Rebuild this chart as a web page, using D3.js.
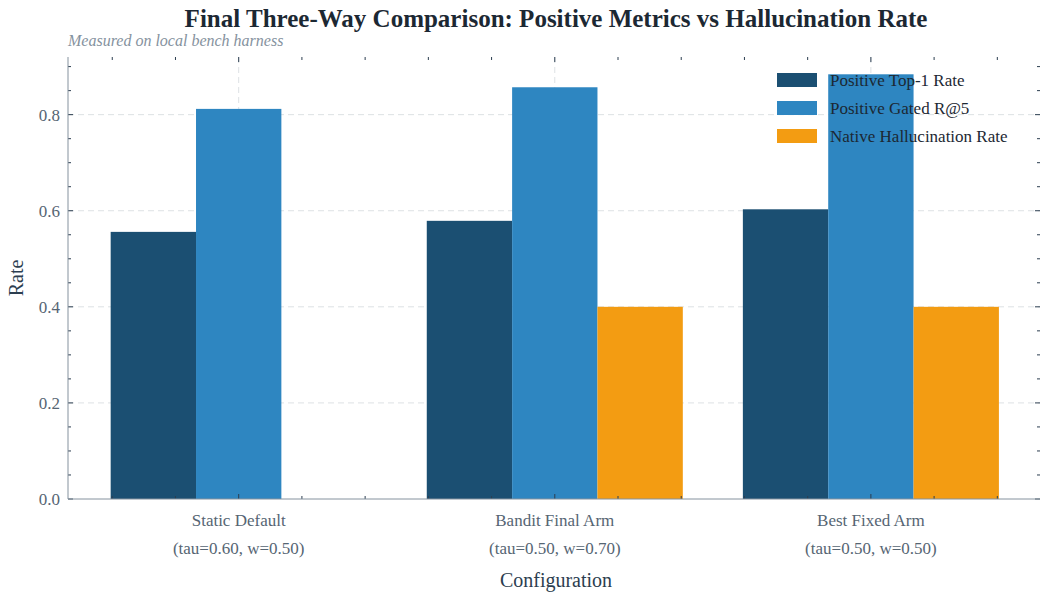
<!DOCTYPE html>
<html><head><meta charset="utf-8">
<script src="https://cdn.jsdelivr.net/npm/d3@7"></script>
<style>body{margin:0;background:#fff}text{font-family:"Liberation Serif","DejaVu Serif",serif}</style>
</head><body><svg id="chart" width="1050" height="600"></svg>
<script>
const groups = ["Static Default", "Bandit Final Arm", "Best Fixed Arm"];
const params = ["(tau=0.60, w=0.50)", "(tau=0.50, w=0.70)", "(tau=0.50, w=0.50)"];
const seriesNames = ["Positive Top-1 Rate", "Positive Gated R@5", "Native Hallucination Rate"];
const colors = ["#1b4f72", "#2e86c1", "#f39c12"];
const top1 = [0.556, 0.579, 0.603];
const gated = [0.812, 0.857, 0.884];
const halluc = [0.0, 0.4, 0.4];
const series = [top1, gated, halluc];
const yTicks = [0, 0.2, 0.4, 0.6, 0.8];

const svg = d3.select("#chart");
const L = 68, R = 1040, T = 57, B = 499;
const x = d3.scaleLinear().domain([-0.54, 2.535]).range([L, R]);
const y = d3.scaleLinear().domain([0, 0.92]).range([B, T]);
const bw = 0.27;

// grid
svg.append("g").selectAll("line").data(yTicks.slice(1)).join("line")
  .attr("x1", L).attr("x2", R).attr("y1", d => y(d)).attr("y2", d => y(d))
  .attr("stroke", "#dde1e4").attr("stroke-dasharray", "6,4");
svg.append("g").selectAll("line").data(groups).join("line")
  .attr("x1", (d, i) => x(i)).attr("x2", (d, i) => x(i)).attr("y1", T).attr("y2", B)
  .attr("stroke", "#dde1e4").attr("stroke-dasharray", "6,4");

// bars
series.forEach((vals, s) => {
  svg.append("g").selectAll("rect").data(vals).join("rect")
    .attr("x", (d, i) => x(i + (s - 1.5) * bw))
    .attr("width", x(bw) - x(0))
    .attr("y", d => y(d)).attr("height", d => B - y(d))
    .attr("fill", colors[s]);
});

// ticks (inward, all sides)
const tk = svg.append("g").attr("stroke", "#2c3e50");
const minorY = d3.range(0, 0.92, 0.05);
minorY.forEach(v => {
  const major = Math.abs(v * 5 - Math.round(v * 5)) < 1e-6;
  const len = major ? 5 : 3;
  tk.append("line").attr("x1", L).attr("x2", L + len).attr("y1", y(v)).attr("y2", y(v));
  tk.append("line").attr("x1", R).attr("x2", R - len).attr("y1", y(v)).attr("y2", y(v));
});
d3.range(-2, 14).map(k => k * 0.2).filter(v => x(v) > L && x(v) < R).forEach(v => {
  const major = Math.abs(v - Math.round(v)) < 1e-6;
  const len = major ? 5 : 3;
  tk.append("line").attr("x1", x(v)).attr("x2", x(v)).attr("y1", B).attr("y2", B - len);
  tk.append("line").attr("x1", x(v)).attr("x2", x(v)).attr("y1", T).attr("y2", T + len);
});

// spines
svg.append("line").attr("x1", L).attr("x2", L).attr("y1", T).attr("y2", B).attr("stroke", "#85929e");
svg.append("line").attr("x1", L).attr("x2", R).attr("y1", B).attr("y2", B).attr("stroke", "#85929e");

// tick labels
svg.append("g").selectAll("text").data(yTicks).join("text")
  .attr("x", L - 8).attr("y", d => y(d) + 6).attr("text-anchor", "end")
  .attr("font-size", 17).attr("fill", "#566573").text(d => d.toFixed(1));
groups.forEach((g, i) => {
  svg.append("text").attr("x", x(i)).attr("y", 526).attr("text-anchor", "middle")
    .attr("font-size", 17).attr("fill", "#566573").text(g);
  svg.append("text").attr("x", x(i)).attr("y", 554).attr("text-anchor", "middle")
    .attr("font-size", 17).attr("fill", "#566573").text(params[i]);
});

// titles
svg.append("text").attr("x", 556).attr("y", 27).attr("text-anchor", "middle")
  .attr("font-size", 25).attr("font-weight", "bold").attr("fill", "#1c2833")
  .text("Final Three-Way Comparison: Positive Metrics vs Hallucination Rate");
svg.append("text").attr("x", 68).attr("y", 46).attr("font-size", 16)
  .attr("font-style", "italic").attr("fill", "#85929e").text("Measured on local bench harness");
svg.append("text").attr("x", 556).attr("y", 587).attr("text-anchor", "middle")
  .attr("font-size", 20).attr("fill", "#2c3e50").text("Configuration");
svg.append("text").attr("transform", `translate(23,${(T + B) / 2}) rotate(-90)`)
  .attr("text-anchor", "middle").attr("font-size", 20).attr("fill", "#2c3e50").text("Rate");

// legend
const lg = svg.append("g").attr("transform", "translate(777,73)");
seriesNames.forEach((n, i) => {
  lg.append("rect").attr("x", 0).attr("y", i * 28).attr("width", 40).attr("height", 14).attr("fill", colors[i]);
  lg.append("text").attr("x", 53).attr("y", i * 28 + 13).attr("font-size", 17).attr("fill", "#1c2833").text(n);
});
</script></body></html>
